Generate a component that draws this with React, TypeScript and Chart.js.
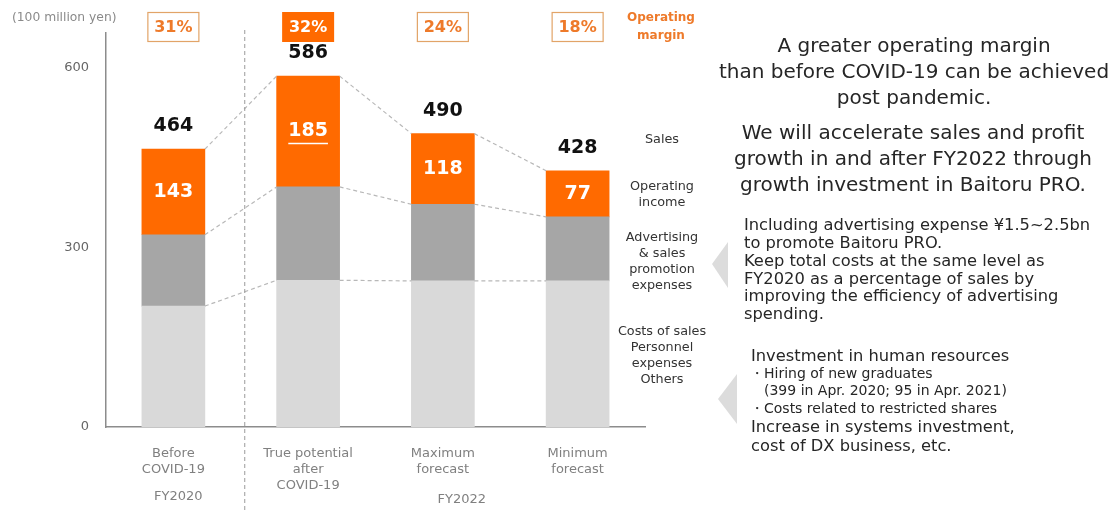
import React, { useEffect, useRef } from 'react';
import { Chart, registerables } from 'chart.js';

Chart.register(...registerables);

const categories: string[][] = [
  ['Before', 'COVID-19'],
  ['True potential', 'after', 'COVID-19'],
  ['Maximum', 'forecast'],
  ['Minimum', 'forecast'],
];
const costsOfSales = [202, 245, 244, 244];
const adExpenses = [119, 156, 128, 107];
const operatingIncome = [143, 185, 118, 77];
const salesTotals = [464, 586, 490, 428];
const operatingMargins = ['31%', '32%', '24%', '18%'];
const highlightedIndex = 1;
const yTickValues = [0, 300, 600];
const yAxisMax = 658;

const seriesLabels: string[][] = [
  ['Sales'],
  ['Operating', 'income'],
  ['Advertising', '& sales', 'promotion', 'expenses'],
  ['Costs of sales', 'Personnel', 'expenses', 'Others'],
];
const headlineLines = [
  'A greater operating margin',
  'than before COVID-19 can be achieved',
  'post pandemic.',
];
const headline2Lines = [
  'We will accelerate sales and profit',
  'growth in and after FY2022 through',
  'growth investment in Baitoru PRO.',
];
const adNoteLines = [
  'Including advertising expense ¥1.5~2.5bn',
  'to promote Baitoru PRO.',
  'Keep total costs at the same level as',
  'FY2020 as a percentage of sales by',
  'improving the efficiency of advertising',
  'spending.',
];

const FONT = '"DejaVu Sans", Verdana, sans-serif';
const ORANGE = '#ff6a00';
const ORANGE_TEXT = '#ee7a2a';

const overlayPlugin = {
  id: 'overlay',
  afterDatasetsDraw(chart: any) {
    const ctx: CanvasRenderingContext2D = chart.ctx;
    const metas = [0, 1, 2].map((i) => chart.getDatasetMeta(i));
    ctx.save();
    // connectors between bars
    ctx.strokeStyle = '#b8b8b8';
    ctx.lineWidth = 1.2;
    ctx.setLineDash([4, 3]);
    for (let i = 0; i < categories.length - 1; i++) {
      for (let d = 0; d < 3; d++) {
        const a = metas[d].data[i];
        const b = metas[d].data[i + 1];
        ctx.beginPath();
        ctx.moveTo(a.x + a.width / 2, a.y);
        ctx.lineTo(b.x - b.width / 2, b.y);
        ctx.stroke();
      }
    }
    // divider
    const e0 = metas[0].data[0];
    const e1 = metas[0].data[1];
    const dx = (e0.x + e1.x) / 2 + 4;
    ctx.strokeStyle = '#9a9a9a';
    ctx.lineWidth = 1;
    ctx.setLineDash([4, 3]);
    ctx.beginPath();
    ctx.moveTo(dx, 30);
    ctx.lineTo(dx, 512);
    ctx.stroke();
    ctx.setLineDash([]);

    ctx.textAlign = 'center';
    ctx.textBaseline = 'middle';
    ctx.font = `bold 19px ${FONT}`;
    metas[2].data.forEach((el: any, i: number) => {
      const cy = (el.y + el.base) / 2;
      ctx.fillStyle = '#ffffff';
      const t = String(operatingIncome[i]);
      ctx.fillText(t, el.x, cy);
      if (i === highlightedIndex) {
        const w = ctx.measureText(t).width;
        ctx.strokeStyle = '#ffffff';
        ctx.lineWidth = 1.5;
        ctx.beginPath();
        ctx.moveTo(el.x - w / 2, cy + 12);
        ctx.lineTo(el.x + w / 2, cy + 12);
        ctx.stroke();
      }
      // sales totals
      ctx.fillStyle = '#111111';
      ctx.fillText(String(salesTotals[i]), el.x, el.y - 23);
      // margin boxes
      const bw = 52;
      const bh = 30;
      const bx = el.x - bw / 2;
      const by = 12;
      if (i === highlightedIndex) {
        ctx.fillStyle = ORANGE;
        ctx.fillRect(bx, by, bw, bh);
        ctx.fillStyle = '#ffffff';
      } else {
        ctx.strokeStyle = '#e2a468';
        ctx.lineWidth = 1.2;
        ctx.strokeRect(bx + 0.5, by + 0.5, bw - 1, bh - 1);
        ctx.fillStyle = ORANGE_TEXT;
      }
      ctx.font = `bold 16px ${FONT}`;
      ctx.fillText(operatingMargins[i], el.x, by + bh / 2 + 1);
      ctx.font = `bold 19px ${FONT}`;
    });

    // "Operating margin"
    ctx.fillStyle = ORANGE_TEXT;
    ctx.font = `bold 12px ${FONT}`;
    ctx.fillText('Operating', 661, 18);
    ctx.fillText('margin', 661, 36);

    // unit
    ctx.fillStyle = '#8a8a8a';
    ctx.font = `12.3px ${FONT}`;
    ctx.textAlign = 'left';
    ctx.fillText('(100 million yen)', 12, 18);

    // period labels
    ctx.textAlign = 'center';
    ctx.fillStyle = '#808080';
    ctx.font = `13px ${FONT}`;
    ctx.fillText('FY2020', metas[0].data[0].x + 5, 497);
    ctx.fillText('FY2022', metas[0].data[2].x + 19, 500);

    // series labels
    ctx.fillStyle = '#333333';
    ctx.font = `12.8px ${FONT}`;
    const starts = [140, 187, 238, 332];
    seriesLabels.forEach((lines, k) => {
      lines.forEach((l, j) => ctx.fillText(l, 662, starts[k] + j * 16));
    });

    // triangles
    ctx.fillStyle = '#dcdcdc';
    ctx.beginPath();
    ctx.moveTo(712, 264);
    ctx.lineTo(728, 242);
    ctx.lineTo(728, 288);
    ctx.closePath();
    ctx.fill();
    ctx.beginPath();
    ctx.moveTo(718, 399);
    ctx.lineTo(737, 374);
    ctx.lineTo(737, 424);
    ctx.closePath();
    ctx.fill();

    // headlines
    ctx.fillStyle = '#262626';
    ctx.font = `20px ${FONT}`;
    ctx.textAlign = 'center';
    headlineLines.forEach((l, j) => ctx.fillText(l, 914, 47 + j * 26));
    headline2Lines.forEach((l, j) => ctx.fillText(l, 913, 134 + j * 26));

    // notes
    ctx.textAlign = 'left';
    ctx.font = `16.3px ${FONT}`;
    adNoteLines.forEach((l, j) => ctx.fillText(l, 744, 226 + j * 17.8));
    ctx.fillText('Investment in human resources', 751, 357);
    ctx.font = `14px ${FONT}`;
    ctx.fillText('・Hiring of new graduates', 750, 374);
    ctx.fillText('(399 in Apr. 2020; 95 in Apr. 2021)', 764, 391);
    ctx.fillText('・Costs related to restricted shares', 750, 409);
    ctx.font = `16.3px ${FONT}`;
    ctx.fillText('Increase in systems investment,', 751, 428);
    ctx.fillText('cost of DX business, etc.', 751, 447);
    ctx.restore();
  },
};

export default function App() {
  const ref = useRef<HTMLCanvasElement | null>(null);
  useEffect(() => {
    if (!ref.current) return;
    const chart = new Chart(ref.current, {
      type: 'bar',
      data: {
        labels: categories,
        datasets: [
          { label: 'Costs of sales, personnel, others', data: costsOfSales, backgroundColor: '#d9d9d9', barThickness: 63, borderWidth: 0 },
          { label: 'Advertising & sales promotion', data: adExpenses, backgroundColor: '#a6a6a6', barThickness: 63, borderWidth: 0 },
          { label: 'Operating income', data: operatingIncome, backgroundColor: ORANGE, barThickness: 63, borderWidth: 0 },
        ],
      },
      options: {
        animation: false,
        responsive: true,
        maintainAspectRatio: false,
        layout: { padding: { top: 33, right: 468, left: 0, bottom: 0 } },
        plugins: { legend: { display: false }, tooltip: { enabled: false } },
        scales: {
          x: {
            stacked: true,
            grid: { display: false },
            border: { display: true, color: '#8c8c8c', width: 1.5 },
            ticks: {
              color: '#808080',
              font: { family: FONT, size: 13, lineHeight: 1.25 },
              padding: 10,
              maxRotation: 0,
              autoSkip: false,
            },
            afterFit(s: any) {
              s.height = 88;
            },
          },
          y: {
            stacked: true,
            min: 0,
            max: yAxisMax,
            grid: { display: false },
            border: { display: true, color: '#8c8c8c', width: 1.5 },
            afterBuildTicks(s: any) {
              s.ticks = yTickValues.map((v) => ({ value: v }));
            },
            ticks: { color: '#666666', font: { family: FONT, size: 13 }, padding: 9 },
            afterFit(s: any) {
              s.width = 106;
            },
          },
        },
      },
      plugins: [overlayPlugin],
    } as any);
    return () => chart.destroy();
  }, []);
  return (
    <div style={{ position: 'fixed', left: 0, top: 0, width: 1113, height: 515, background: '#ffffff' }}>
      <canvas ref={ref} />
    </div>
  );
}
